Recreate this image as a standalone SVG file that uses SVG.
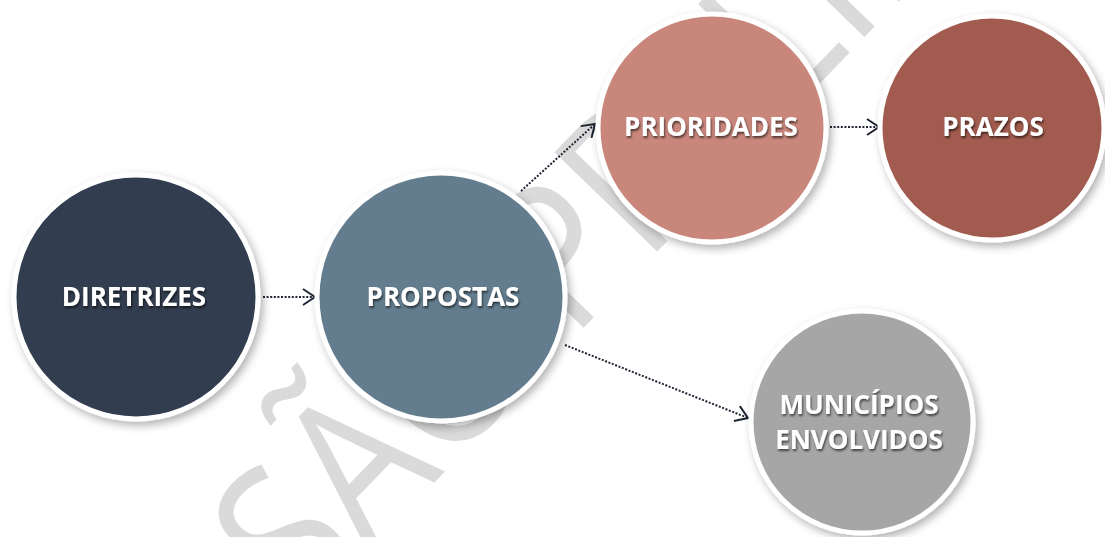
<svg xmlns="http://www.w3.org/2000/svg" width="1105" height="537" viewBox="0 0 1105 537">
  <style>
    .node { stroke: #ffffff; stroke-width: 5; filter: url(#shadow); }
    .label { font-family: "Open Sans", "Liberation Sans", sans-serif; font-weight: 700; font-size: 26px; fill: #ffffff; text-anchor: middle; filter: url(#tshadow); }
    .conn { fill: none; stroke: #1e2532; stroke-width: 2; stroke-dasharray: 2 1.6; }
    .wm { font-family: "Open Sans", "Liberation Sans", sans-serif; font-weight: 400; font-size: 200px; fill: #dadada; text-anchor: middle; }
  </style>
  <defs>
    <filter id="shadow" x="-20%" y="-20%" width="140%" height="140%">
      <feDropShadow dx="3" dy="4" stdDeviation="4" flood-color="#000000" flood-opacity="0.3"/>
    </filter>
    <filter id="tshadow" x="-10%" y="-30%" width="120%" height="160%">
      <feDropShadow dx="1" dy="2" stdDeviation="1.2" flood-color="#000000" flood-opacity="0.6"/>
    </filter>
    <marker id="chev" viewBox="0 0 14 18" refX="13" refY="9" markerWidth="14" markerHeight="18" markerUnits="userSpaceOnUse" orient="auto">
      <path d="M1,1 L13,9 L1,17" fill="none" stroke="#1e2532" stroke-width="2"/>
    </marker>
  </defs>
  <rect width="1105" height="537" fill="#ffffff"/>
  <g id="watermark">
    <text class="wm" transform="translate(680,228) rotate(-46) scale(0.88,1)">VERSÃO PRELIMINAR</text>
  </g>
  <g id="connectors">
    <line class="conn" x1="263" y1="297" x2="315" y2="297" marker-end="url(#chev)"/>
    <line class="conn" x1="521" y1="191" x2="595" y2="124" marker-end="url(#chev)"/>
    <line class="conn" x1="830" y1="127" x2="879" y2="127" marker-end="url(#chev)"/>
    <line class="conn" x1="565" y1="345" x2="748" y2="418" marker-end="url(#chev)"/>
  </g>
  <g id="diretrizes">
    <circle class="node" cx="136" cy="297" r="122" fill="#303c50"/>
    <text class="label" x="134" y="306">DIRETRIZES</text>
  </g>
  <g id="propostas">
    <circle class="node" cx="441" cy="297" r="124" fill="#647d8e"/>
    <text class="label" x="443" y="306">PROPOSTAS</text>
  </g>
  <g id="prioridades">
    <circle class="node" cx="712" cy="128" r="114" fill="#c9877c"/>
    <text class="label" x="711" y="136">PRIORIDADES</text>
  </g>
  <g id="prazos">
    <circle class="node" cx="992" cy="128" r="112" fill="#a25b50"/>
    <text class="label" x="993" y="136">PRAZOS</text>
  </g>
  <g id="municipios">
    <circle class="node" cx="862" cy="422" r="111" fill="#a6a6a6"/>
    <text class="label" x="859" y="414">MUNICÍPIOS</text>
    <text class="label" x="859" y="449">ENVOLVIDOS</text>
  </g>
</svg>
